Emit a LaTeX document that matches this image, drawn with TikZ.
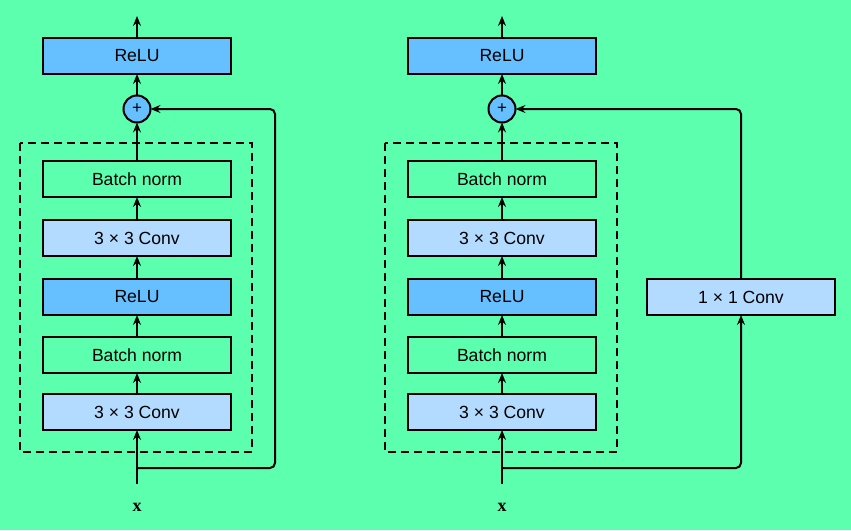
\documentclass[tikz,border=0pt]{standalone}
\usepackage{fontspec}
\setmainfont{Liberation Sans}
\newfontfamily\xfont{Liberation Serif}
\usetikzlibrary{arrows.meta}
\definecolor{bg}{RGB}{92,255,174}
\definecolor{convc}{RGB}{179,218,255}
\definecolor{reluc}{RGB}{102,191,255}
\begin{document}
\begin{tikzpicture}[x=1pt,y=-1pt,
  blk/.style={draw=black, line width=2pt, minimum width=188pt, minimum height=36pt, inner sep=0pt, outer sep=0pt, font=\fontsize{17.6}{20}\selectfont},
  convbox/.style={blk, fill=convc},
  relubox/.style={blk, fill=reluc},
  normbox/.style={blk},
  plusnode/.style={circle, draw=black, fill=reluc, line width=2pt, minimum size=27pt, inner sep=0pt, outer sep=0pt, font=\fontsize{17}{18}\selectfont},
  inlabel/.style={font=\xfont\bfseries\fontsize{18}{20}\selectfont, inner sep=0pt},
  arr/.style={line width=2pt, -{Stealth[length=10pt,width=8pt,inset=3.5pt]}},
  skip/.style={arr, rounded corners=5pt},
  dashbox/.style={line width=2pt, dash pattern=on 8pt off 5pt}
]
\fill[bg] (0,0) rectangle (851,530);
\useasboundingbox (0,0) rectangle (851,530);

% ---------- left block ----------
\node[relubox] (Lrelu2) at (137,56) {ReLU};
\node[plusnode] (Lplus) at (137,109) {+};
\node[normbox] (Lbn2) at (137,179) {Batch norm};
\node[convbox] (Lconv2) at (137,238) {3 × 3 Conv};
\node[relubox] (Lrelu1) at (137,297) {ReLU};
\node[normbox] (Lbn1) at (137,355) {Batch norm};
\node[convbox] (Lconv1) at (137,412) {3 × 3 Conv};
\node[inlabel] (Lx) at (137,507) {x};
\coordinate (Lin) at (137,484);
\coordinate (Lj) at (137,468);
\coordinate (Lout) at (137,16);
\coordinate (Lc) at (275,109);
\draw[dashbox] (20,143) rectangle (252,452);
\draw[arr] (Lin) -- (Lconv1);
\draw[arr] (Lconv1) -- (Lbn1);
\draw[arr] (Lbn1) -- (Lrelu1);
\draw[arr] (Lrelu1) -- (Lconv2);
\draw[arr] (Lconv2) -- (Lbn2);
\draw[arr] (Lbn2) -- (Lplus);
\draw[arr] (Lplus) -- (Lrelu2);
\draw[arr] (Lrelu2) -- (Lout);
\draw[skip] (Lj) -| (Lc) -- (Lplus);

% ---------- right block ----------
\node[relubox] (Rrelu2) at (502,56) {ReLU};
\node[plusnode] (Rplus) at (502,109) {+};
\node[normbox] (Rbn2) at (502,179) {Batch norm};
\node[convbox] (Rconv2) at (502,238) {3 × 3 Conv};
\node[relubox] (Rrelu1) at (502,297) {ReLU};
\node[normbox] (Rbn1) at (502,355) {Batch norm};
\node[convbox] (Rconv1) at (502,412) {3 × 3 Conv};
\node[convbox] (Rone) at (741,297) {1 × 1 Conv};
\node[inlabel] (Rx) at (502,507) {x};
\coordinate (Rin) at (502,484);
\coordinate (Rj) at (502,468);
\coordinate (Rout) at (502,16);
\draw[dashbox] (385,143) rectangle (617,452);
\draw[arr] (Rin) -- (Rconv1);
\draw[arr] (Rconv1) -- (Rbn1);
\draw[arr] (Rbn1) -- (Rrelu1);
\draw[arr] (Rrelu1) -- (Rconv2);
\draw[arr] (Rconv2) -- (Rbn2);
\draw[arr] (Rbn2) -- (Rplus);
\draw[arr] (Rplus) -- (Rrelu2);
\draw[arr] (Rrelu2) -- (Rout);
\draw[skip] (Rj) -| (Rone.south);
\draw[skip] (Rone.north) |- (Rplus);
\end{tikzpicture}
\end{document}
